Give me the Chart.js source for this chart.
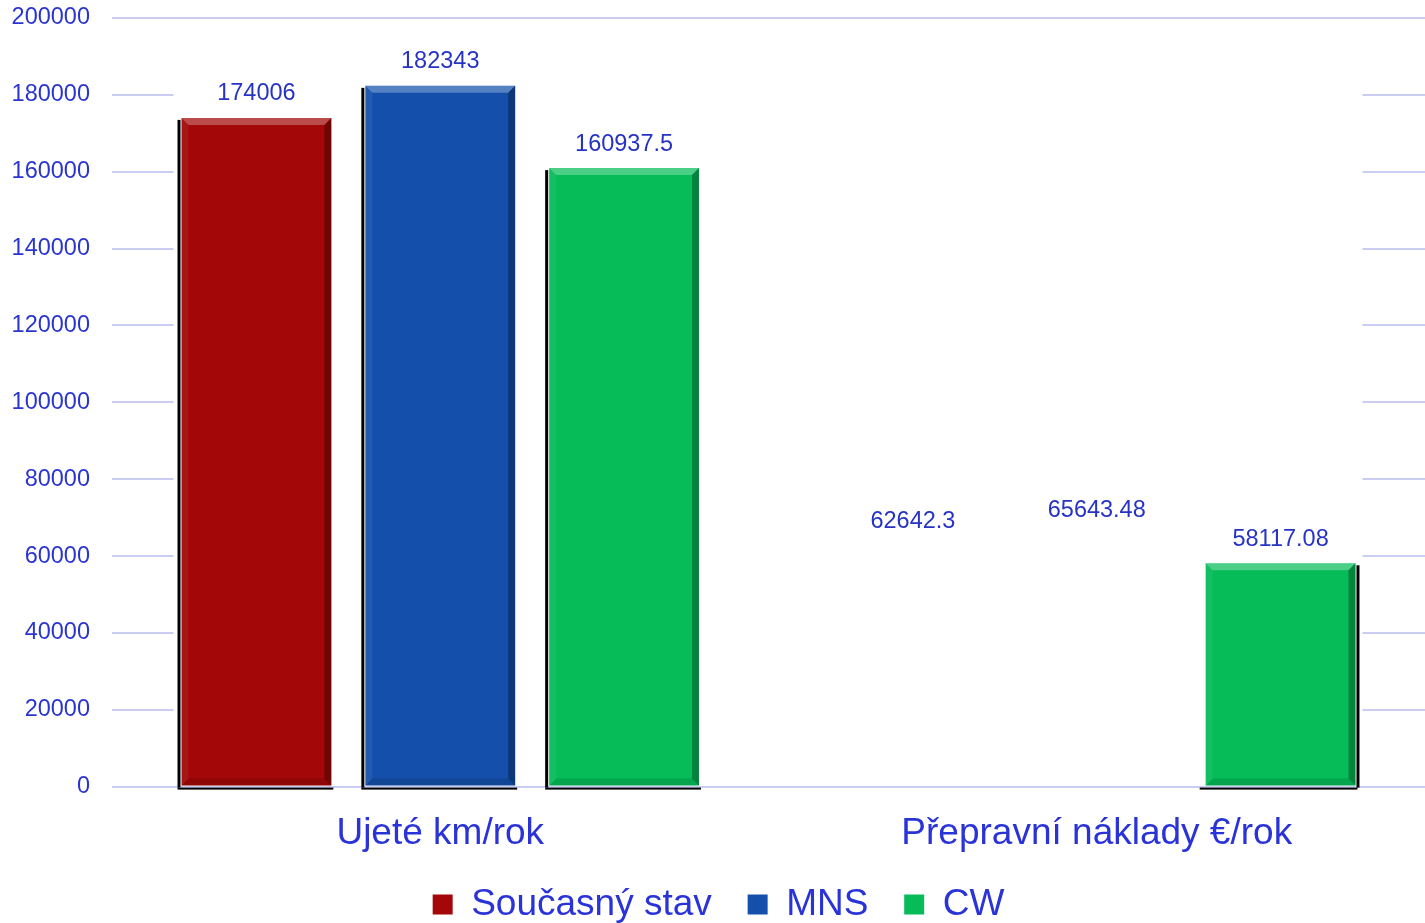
<!DOCTYPE html>
<html>
<head>
<meta charset="utf-8">
<script src="https://cdn.jsdelivr.net/npm/chart.js@4"></script>
<style>
  html, body { margin: 0; padding: 0; background: #fff; }
  #wrap { width: 1425px; height: 923px; }
</style>
</head>
<body>
<div id="wrap"><canvas id="chart"></canvas></div>
<script>
const categories = ["Ujeté km/rok", "Přepravní náklady €/rok"];
const seriesNames = ["Současný stav", "MNS", "CW"];
const soucasny = [174006, 62642.3];
const mns = [182343, 65643.48];
const cw = [160937.5, 58117.08];
// which bars were actually painted in the original (labels are shown for all)
const shown = [[true, false], [true, false], [true, true]];
const colors = ["#a30707", "#1450ab", "#06bc58"];
const labelColor = "#2633c4";
const fontFamily = '"Liberation Sans", Arial, sans-serif';

const values = [soucasny, mns, cw];
let datasets = [];
for (let i = 0; i < seriesNames.length; i++) {
  datasets.push({
    label: seriesNames[i],
    data: values[i],
    backgroundColor: (ctx) => {
      if (ctx.type === 'data' && !shown[ctx.datasetIndex][ctx.dataIndex]) return 'rgba(0,0,0,0)';
      return colors[ctx.datasetIndex];
    },
    borderWidth: 0,
    categoryPercentage: 0.84,
    barPercentage: 0.815
  });
}

// white "back wall" that hides the grid behind the bars
const backWall = {
  id: 'backWall',
  beforeDatasetsDraw(chart) {
    const ctx = chart.ctx;
    const first = chart.getDatasetMeta(0).data[0];
    const last = chart.getDatasetMeta(datasets.length - 1).data[categories.length - 1];
    const y = chart.scales.y;
    const x0 = first.x - first.width / 2 - 8;
    const x1 = last.x + last.width / 2 + 7;
    ctx.save();
    ctx.fillStyle = '#fff';
    ctx.fillRect(x0, y.getPixelForValue(190000), x1 - x0,
      y.getPixelForValue(0) - 2 - y.getPixelForValue(190000));
    ctx.restore();
  }
};

// bevel edges + shadow on the painted bars, value labels on all
const bevel = {
  id: 'bevel',
  afterDatasetsDraw(chart) {
    const ctx = chart.ctx;
    ctx.save();
    chart.data.datasets.forEach((ds, di) => {
      const meta = chart.getDatasetMeta(di);
      meta.data.forEach((el, j) => {
        if (!shown[di][j]) return;
        const l = el.x - el.width / 2, r = el.x + el.width / 2, t = el.y, b = el.base;
        const e = 7;
        const band = (pts, fill) => {
          ctx.beginPath();
          ctx.moveTo(pts[0][0], pts[0][1]);
          for (let k = 1; k < pts.length; k++) ctx.lineTo(pts[k][0], pts[k][1]);
          ctx.closePath();
          ctx.fillStyle = fill;
          ctx.fill();
        };
        band([[l, t], [r, t], [r - e, t + e], [l + e, t + e]], 'rgba(255,255,255,0.28)');
        band([[r, t], [r, b], [r - e, b - e], [r - e, t + e]], 'rgba(0,0,0,0.3)');
        band([[l, b], [r, b], [r - e, b - e], [l + e, b - e]], 'rgba(0,0,0,0.12)');
        band([[l, t], [l + e, t + e], [l + e, b - e], [l, b]], 'rgba(255,255,255,0.06)');
        ctx.fillStyle = '#000';
        if (j === 0) {
          ctx.fillRect(l - 4, t + 2, 3, b - t);
          ctx.fillRect(l - 4, b + 2, el.width + 6, 2);
        } else {
          ctx.fillRect(r + 1, t + 2, 3, b - t);
          ctx.fillRect(l - 6, b + 2, el.width + 8, 2);
        }
      });
    });
    ctx.fillStyle = labelColor;
    ctx.font = '23.5px ' + fontFamily;
    ctx.textAlign = 'center';
    ctx.textBaseline = 'middle';
    chart.data.datasets.forEach((ds, di) => {
      chart.getDatasetMeta(di).data.forEach((el, j) => {
        ctx.fillText(String(ds.data[j]), el.x, el.y - 24);
      });
    });
    ctx.restore();
  }
};

new Chart(document.getElementById('chart').getContext('2d'), {
  type: 'bar',
  data: { labels: categories, datasets: datasets },
  plugins: [backWall, bevel],
  options: {
    responsive: true,
    maintainAspectRatio: false,
    animation: false,
    layout: { padding: { left: 12, top: 18, right: 0, bottom: -10 } },
    plugins: {
      tooltip: { enabled: false },
      legend: {
        position: 'bottom',
        labels: {
          color: '#2a33d8',
          font: { family: fontFamily, size: 37 },
          boxWidth: 20,
          boxHeight: 20,
          padding: 5,
          generateLabels(chart) {
            const items = Chart.defaults.plugins.legend.labels.generateLabels(chart);
            items.forEach((it, i) => {
              it.fillStyle = colors[i];
              it.strokeStyle = colors[i];
              it.lineWidth = 0;
              if (i < items.length - 1) it.text = it.text + '   ';
            });
            return items;
          }
        }
      }
    },
    scales: {
      x: {
        grid: { display: false, drawTicks: false },
        border: { display: false },
        ticks: {
          color: '#2a33d8',
          font: { family: fontFamily, size: 37 },
          padding: 25
        }
      },
      y: {
        min: 0,
        max: 200000,
        border: { display: false },
        grid: { color: '#c9cdf2', lineWidth: 2, drawTicks: false },
        ticks: {
          stepSize: 20000,
          color: '#2a35d0',
          font: { family: fontFamily, size: 23.5 },
          padding: 22,
          callback: (v) => String(v)
        },
        afterFit: (scale) => {
          scale.width = 100;
          scale.paddingTop = 0;
          scale.paddingBottom = 0;
        }
      }
    }
  }
});
</script>
</body>
</html>
